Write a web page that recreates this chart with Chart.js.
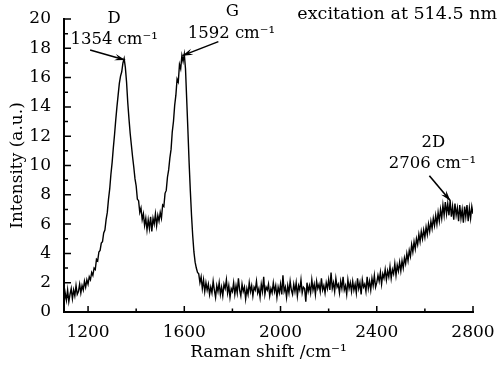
<!DOCTYPE html>
<html>
<head>
<meta charset="utf-8">
<script src="https://cdn.jsdelivr.net/npm/chart.js@4/dist/chart.umd.min.js"></script>
<style>
  html, body { margin: 0; padding: 0; background: #fff; }
  #wrap { width: 499px; height: 366px; }
</style>
</head>
<body>
<div id="wrap"><canvas id="raman-chart" width="499" height="366"></canvas></div>
<script>
// Raman spectrum, sampled every 5 cm-1 from 1100 to 2800
const shiftStart = 1100;
const shiftStep = 5;
const intensity = [
  // 1100-1195
  0.6, 1.3, 0.8, 1.5, 0.7, 1.2, 1.6, 0.9, 1.5, 1.1, 1.8, 1.2, 1.4, 1.9, 1.3, 1.8, 1.5, 2.1, 1.7, 2.2,
  // 1200-1295
  1.9, 2.4, 2.2, 2.7, 2.5, 3.0, 2.9, 3.6, 3.5, 4.1, 4.2, 4.7, 4.8, 5.4, 5.6, 6.3, 6.8, 7.7, 8.4, 9.4,
  // 1300-1395 (D band)
  10.2, 11.2, 12.1, 13.1, 14.0, 14.8, 15.6, 16.1, 16.4, 17.0, 17.3, 16.7, 15.7, 14.3, 13.2, 12.2, 11.4, 10.6, 9.9, 9.1,
  // 1400-1495
  8.6, 7.7, 7.6, 6.8, 7.1, 6.3, 6.7, 5.9, 6.4, 5.6, 6.3, 5.7, 6.5, 5.5, 6.4, 6.0, 6.7, 5.9, 6.6, 6.2,
  // 1500-1595 (G band)
  6.8, 6.4, 7.3, 7.2, 8.1, 8.3, 9.2, 9.7, 10.5, 11.1, 12.3, 13.0, 14.1, 14.8, 15.9, 15.7, 16.9, 16.6, 17.5, 17.1,
  // 1600-1695
  17.6, 16.6, 14.5, 12.4, 10.2, 8.3, 6.6, 5.2, 4.1, 3.4, 3.0, 2.7, 2.6, 2.0, 2.4, 1.6, 2.2, 1.4, 2.0, 1.5,
  // 1700-1795
  1.9, 1.2, 1.7, 1.3, 2.1, 1.5, 1.0, 1.8, 1.4, 2.0, 1.2, 1.7, 1.1, 1.9, 1.6, 2.2, 1.3, 1.8, 1.0, 1.6,
  // 1800-1895
  1.4, 2.0, 1.2, 1.8, 1.3, 2.3, 1.5, 1.1, 1.9, 1.4, 1.7, 0.9, 1.6, 1.2, 2.0, 1.4, 1.8, 1.1, 1.7, 1.5,
  // 1900-1995
  2.1, 1.3, 1.6, 1.0, 1.9, 1.4, 2.4, 1.2, 1.7, 1.5, 1.9, 1.1, 1.6, 1.3, 2.0, 1.4, 1.8, 1.0, 1.7, 1.3,
  // 2000-2095
  1.9, 1.2, 2.5, 1.4, 1.7, 1.0, 1.8, 1.3, 2.1, 1.5, 1.2, 1.9, 1.4, 2.0, 1.1, 1.8, 1.5, 2.2, 1.3, 1.7,
  // 2100-2195
  1.6, 0.7, 2.0, 1.4, 1.8, 1.3, 2.2, 1.5, 1.9, 1.2, 2.1, 1.6, 1.9, 1.4, 2.3, 1.5, 1.8, 1.3, 2.0, 1.6,
  // 2200-2295
  2.2, 1.5, 2.7, 1.6, 2.0, 1.4, 2.3, 1.7, 1.9, 1.3, 2.1, 1.6, 2.4, 1.5, 1.8, 1.2, 2.2, 1.6, 2.0, 1.4,
  // 2300-2395
  2.1, 1.5, 1.9, 1.3, 2.3, 1.6, 2.0, 1.2, 2.2, 1.7, 1.9, 1.4, 2.4, 1.6, 2.1, 1.5, 2.3, 1.8, 2.5, 1.7,
  // 2400-2495
  2.0, 2.5, 2.1, 2.7, 1.9, 2.6, 2.3, 2.9, 2.2, 2.8, 2.4, 3.1, 2.3, 2.9, 2.6, 3.3, 2.5, 3.2, 2.8, 3.4,
  // 2500-2595
  2.8, 3.5, 3.0, 3.7, 3.3, 4.0, 3.5, 4.2, 3.8, 4.6, 4.1, 4.8, 4.3, 5.0, 4.6, 5.3, 4.8, 5.5, 5.0, 5.6,
  // 2600-2695 (2D band)
  5.1, 5.8, 5.3, 6.0, 5.5, 6.2, 5.7, 6.4, 5.9, 6.6, 6.0, 6.8, 6.2, 7.0, 6.4, 7.3, 6.6, 7.5, 6.7, 7.4,
  // 2700-2795
  6.6, 7.6, 6.5, 7.2, 6.3, 7.4, 6.6, 7.1, 6.2, 7.3, 6.4, 7.0, 6.1, 7.2, 6.5, 7.3, 6.2, 7.1, 6.4, 7.2,
  // 2800
  6.7
];

const xTicks = [1200, 1600, 2000, 2400, 2800];
const xMinorTicks = [1400, 1800, 2200, 2600];
const yTicks = [0, 2, 4, 6, 8, 10, 12, 14, 16, 18, 20];
const yMinorTicks = [1, 3, 5, 7, 9, 11, 13, 15, 17, 19];

// labelled bands
const peakNames = ['D', 'G', '2D'];
const peakShifts = [1354, 1592, 2706];
const peakHeights = [17.2, 17.5, 7.6];

const points = intensity.map((v, i) => ({ x: shiftStart + i * shiftStep, y: v }));

const serif = '"DejaVu Serif", serif';

// where each label sits relative to the arrow tip (px)
const labelLayout = [
  { tail: [-35, -10], name: [-11, -41], value: [-11, -20] },
  { tail: [36, -14], name: [50, -44], value: [49, -22] },
  { tail: [-21, -25], name: [-17, -58], value: [-18, -37] }
];

// inward ticks, major and minor, plus the peak arrows and note
const decorations = {
  id: 'decorations',
  afterDraw(chart) {
    const ctx = chart.ctx;
    const xs = chart.scales.x, ys = chart.scales.y;
    const area = chart.chartArea;
    ctx.save();
    ctx.strokeStyle = '#000';
    ctx.lineWidth = 1.5;
    ctx.beginPath();
    xTicks.forEach(v => { const px = xs.getPixelForValue(v); ctx.moveTo(px, area.bottom); ctx.lineTo(px, area.bottom - 6); });
    xMinorTicks.forEach(v => { const px = xs.getPixelForValue(v); ctx.moveTo(px, area.bottom); ctx.lineTo(px, area.bottom - 3.5); });
    yTicks.forEach(v => { const py = ys.getPixelForValue(v); ctx.moveTo(area.left, py); ctx.lineTo(area.left + 7, py); });
    yMinorTicks.forEach(v => { const py = ys.getPixelForValue(v); ctx.moveTo(area.left, py); ctx.lineTo(area.left + 4, py); });
    ctx.stroke();

    ctx.fillStyle = '#000';
    ctx.font = '16.5px ' + serif;
    ctx.textAlign = 'center';
    ctx.textBaseline = 'middle';
    peakNames.forEach((name, i) => {
      const tx = xs.getPixelForValue(peakShifts[i]);
      const ty = ys.getPixelForValue(peakHeights[i]);
      const lay = labelLayout[i];
      const sx = tx + lay.tail[0], sy = ty + lay.tail[1];
      // arrow shaft
      ctx.lineWidth = 1.6;
      ctx.beginPath();
      ctx.moveTo(sx, sy);
      ctx.lineTo(tx, ty);
      ctx.stroke();
      // arrow head
      const ang = Math.atan2(ty - sy, tx - sx);
      const len = 11, half = 0.3;
      ctx.beginPath();
      ctx.moveTo(tx, ty);
      ctx.lineTo(tx - len * Math.cos(ang - half), ty - len * Math.sin(ang - half));
      ctx.lineTo(tx - len * 0.6 * Math.cos(ang), ty - len * 0.6 * Math.sin(ang));
      ctx.lineTo(tx - len * Math.cos(ang + half), ty - len * Math.sin(ang + half));
      ctx.closePath();
      ctx.fill();
      ctx.fillText(name, tx + lay.name[0], ty + lay.name[1]);
      ctx.fillText(peakShifts[i] + ' cm\u207B\u00B9', tx + lay.value[0], ty + lay.value[1]);
    });

    ctx.font = '17.5px ' + serif;
    ctx.textAlign = 'right';
    ctx.fillText('excitation at 514.5 nm', 497, 14);
    ctx.restore();
  }
};

new Chart(document.querySelector('#raman-chart').getContext('2d'), {
  type: 'line',
  data: {
    datasets: [{
      data: points,
      borderColor: '#000',
      borderWidth: 1.4,
      pointRadius: 0,
      tension: 0,
      fill: false
    }]
  },
  options: {
    responsive: false,
    animation: false,
    events: [],
    layout: { padding: { top: 19, right: 26, left: 0, bottom: 3 } },
    plugins: { legend: { display: false }, tooltip: { enabled: false } },
    scales: {
      x: {
        type: 'linear',
        min: 1100,
        max: 2800,
        afterBuildTicks: s => { s.ticks = xTicks.map(v => ({ value: v })); },
        afterFit: s => { s.height = 51; },
        grid: { display: false },
        border: { display: true, color: '#000', width: 2 },
        ticks: { color: '#000', font: { family: serif, size: 17 }, padding: 2, maxRotation: 0, callback: v => String(v) },
        title: { display: true, text: 'Raman shift /cm\u207B\u00B9', color: '#000', font: { family: serif, size: 17 }, padding: { top: 0, bottom: 0 } }
      },
      y: {
        min: 0,
        max: 20,
        afterBuildTicks: s => { s.ticks = yTicks.map(v => ({ value: v })); },
        afterFit: s => { s.width = 64; },
        grid: { display: false },
        border: { display: true, color: '#000', width: 2 },
        ticks: { color: '#000', font: { family: serif, size: 17 }, padding: 5, callback: v => String(v) },
        title: { display: true, text: 'Intensity (a.u.)', color: '#000', font: { family: serif, size: 17 }, padding: { top: 7, bottom: 0 } }
      }
    }
  },
  plugins: [decorations]
});
</script>
</body>
</html>
